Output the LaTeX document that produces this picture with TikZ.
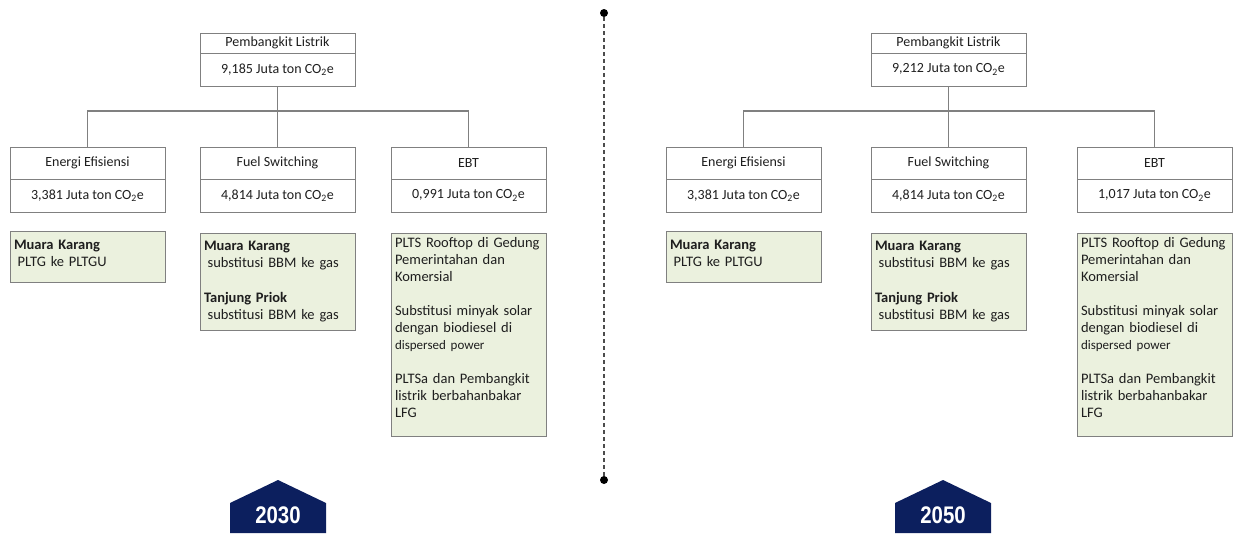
\documentclass[tikz,border=0pt]{standalone}
\usepackage{fontspec}
\setmainfont{Carlito}
\newfontfamily\yearfont[FakeStretch=0.85]{Liberation Sans}
\usepackage{tikz}
\usetikzlibrary{positioning}
\usepackage{xcolor}

\definecolor{boxgray}{HTML}{808080}
\definecolor{notegreen}{HTML}{EBF1DE}
\definecolor{yearblue}{HTML}{0C1F5E}
\definecolor{txtgray}{HTML}{1E1E1E}

\tikzset{
	head/.style={draw=boxgray, line width=1pt, outer sep=0pt, inner sep=0pt, minimum width=155pt, text=txtgray, font=\fontsize{14}{16}\selectfont},
	amount/.style={head, minimum height=33pt},
	note/.style={draw=boxgray, line width=1pt, fill=notegreen, outer sep=0pt, inner xsep=4pt, inner ysep=4pt, text width=147pt, align=left, anchor=north west, text=txtgray, font=\fontsize{14.5}{17}\selectfont},
	link/.style={draw=boxgray, line width=1.2pt},
	dot/.style={circle, fill=black, inner sep=0pt, minimum size=8pt},
	yeartxt/.style={text=white, font=\yearfont\bfseries\fontsize{24}{24}\selectfont}
}
\newcommand{\tco}[1]{#1 Juta ton CO\textsubscript{2}e}
\newcommand{\ind}{\hspace*{0.25em}}
\newcommand{\smallnote}{\fontsize{13}{17}\selectfont}

\begin{document}
\begin{tikzpicture}[x=1pt,y=-1pt]
	\useasboundingbox (0,0) rectangle (1255,533);

	% 2030
	\draw (277.5,43) node[head, minimum height=20pt] (top1) {Pembangkit Listrik}
		(87.5,163) node[head, minimum height=32pt] (ee1) {Energi Efisiensi}
		(277.5,163) node[head, minimum height=32pt] (fs1) {Fuel Switching}
		(468.5,163) node[head, minimum height=32pt] (ebt1) {EBT};
	\node[amount, below=0pt of top1] (top1v) {\tco{9,185}};
	\node[amount, below=0pt of ee1] (ee1v) {\tco{3,381}};
	\node[amount, below=0pt of fs1] (fs1v) {\tco{4,814}};
	\node[amount, below=0pt of ebt1] (ebt1v) {\tco{0,991}};

	\coordinate (bus1) at (277.5,111);
	\draw[link] (top1v.south) -- (fs1.north);
	\draw[link] (ee1.north) |- (bus1) -| (ebt1.north);

	\node[note, minimum height=51pt] (ee1n) at (10,231) {\textbf{Muara Karang}\\ \ind PLTG ke PLTGU\\[-11pt]\mbox{}};
	\node[note, minimum height=97pt] (fs1n) at (200,233) {\textbf{Muara Karang}\\ \ind substitusi BBM ke gas\\[18pt] \textbf{Tanjung Priok}\\ \ind substitusi BBM ke gas};
	\node[note, minimum height=203pt] (ebt1n) at (391,233) {PLTS Rooftop di Gedung\\ Pemerintahan dan\\ Komersial\\[17pt] Substitusi minyak solar\\ dengan biodiesel di\\ {\smallnote dispersed power}\\[17pt] PLTSa dan Pembangkit\\ listrik berbahanbakar\\ LFG\\[-3pt]\mbox{}};

	% 2050
	\draw (948.5,43) node[head, minimum height=20pt] (top2) {Pembangkit Listrik}
		(743.5,163) node[head, minimum height=32pt] (ee2) {Energi Efisiensi}
		(948.5,163) node[head, minimum height=32pt] (fs2) {Fuel Switching}
		(1154.5,163) node[head, minimum height=32pt] (ebt2) {EBT};
	\node[amount, below=0pt of top2] (top2v) {\tco{9,212}};
	\node[amount, below=0pt of ee2] (ee2v) {\tco{3,381}};
	\node[amount, below=0pt of fs2] (fs2v) {\tco{4,814}};
	\node[amount, below=0pt of ebt2] (ebt2v) {\tco{1,017}};

	\coordinate (bus2) at (948.5,111);
	\draw[link] (top2v.south) -- (fs2.north);
	\draw[link] (ee2.north) |- (bus2) -| (ebt2.north);

	\node[note, minimum height=51pt] (ee2n) at (666,231) {\textbf{Muara Karang}\\ \ind PLTG ke PLTGU\\[-11pt]\mbox{}};
	\node[note, minimum height=97pt] (fs2n) at (871,233) {\textbf{Muara Karang}\\ \ind substitusi BBM ke gas\\[18pt] \textbf{Tanjung Priok}\\ \ind substitusi BBM ke gas};
	\node[note, minimum height=203pt] (ebt2n) at (1077,233) {PLTS Rooftop di Gedung\\ Pemerintahan dan\\ Komersial\\[17pt] Substitusi minyak solar\\ dengan biodiesel di\\ {\smallnote dispersed power}\\[17pt] PLTSa dan Pembangkit\\ listrik berbahanbakar\\ LFG\\[-3pt]\mbox{}};

	% divider
	\node[dot] (d1) at (604,13) {};
	\node[dot] (d2) at (604,480) {};
	\draw[black!70, line width=1.5pt, dash pattern=on 4pt off 3pt] (d1) -- (d2);

	% year tags
	\fill[yearblue] (230,533) -- (230,503) -- (278,480) -- (326,503) -- (326,533) -- cycle;
	\node[yeartxt] (yr1) at (278,515) {2030};
	\fill[yearblue] (895,533) -- (895,503) -- (943,480) -- (991,503) -- (991,533) -- cycle;
	\node[yeartxt] (yr2) at (943,515) {2050};
\end{tikzpicture}
\end{document}
